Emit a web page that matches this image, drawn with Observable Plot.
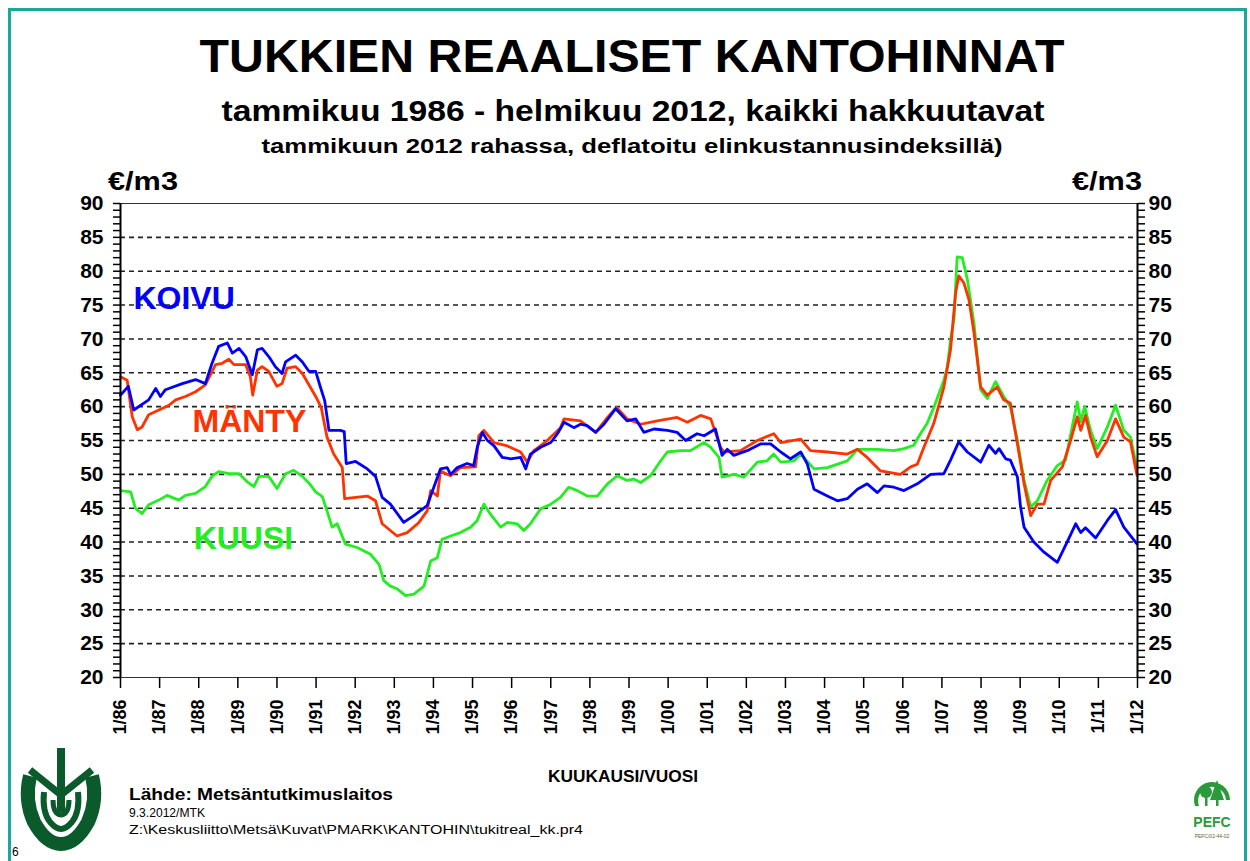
<!DOCTYPE html>
<html><head><meta charset="utf-8">
<script src="https://cdn.jsdelivr.net/npm/d3@7"></script>
<script src="https://cdn.jsdelivr.net/npm/@observablehq/plot@0.6"></script>
<style>
html,body{margin:0;padding:0;background:#fff;}
#wrap{position:relative;width:1250px;height:861px;overflow:hidden;background:#fff;font-family:'Liberation Sans',Arial,sans-serif;}
#chart{position:absolute;left:0;top:0;}
#overlay{position:absolute;left:0;top:0;}
#border{position:absolute;left:8px;top:8px;width:1239px;height:900px;border:3px solid #1aa89b;box-sizing:border-box;}
</style></head>
<body>
<div id="wrap"><div id="border"></div><div id="chart"></div>
<svg id="overlay" width="1250" height="861" xmlns="http://www.w3.org/2000/svg" font-family="'Liberation Sans',Arial,sans-serif" font-weight="bold">
  <text x="632" y="72" font-size="47" text-anchor="middle" textLength="865" lengthAdjust="spacingAndGlyphs">TUKKIEN REAALISET KANTOHINNAT</text>
  <text x="633" y="121" font-size="30" text-anchor="middle" textLength="823" lengthAdjust="spacingAndGlyphs">tammikuu 1986 - helmikuu 2012, kaikki hakkuutavat</text>
  <text x="632" y="153" font-size="21" text-anchor="middle" textLength="741" lengthAdjust="spacingAndGlyphs">tammikuun 2012 rahassa, deflatoitu elinkustannusindeksillä)</text>
  <text x="108" y="190" font-size="25" textLength="70" lengthAdjust="spacingAndGlyphs">€/m3</text>
  <text x="1072" y="190" font-size="25" textLength="70" lengthAdjust="spacingAndGlyphs">€/m3</text>
  <text x="623" y="782" font-size="16" text-anchor="middle" textLength="150" lengthAdjust="spacingAndGlyphs">KUUKAUSI/VUOSI</text>
  <text x="129" y="800" font-size="17" textLength="264" lengthAdjust="spacingAndGlyphs">Lähde: Metsäntutkimuslaitos</text>
  <text x="129" y="817" font-size="12" font-weight="normal" textLength="76" lengthAdjust="spacingAndGlyphs">9.3.2012/MTK</text>
  <text x="129" y="834" font-size="12" font-weight="normal" textLength="454" lengthAdjust="spacingAndGlyphs">Z:\Keskusliitto\Metsä\Kuvat\PMARK\KANTOHIN\tukitreal_kk.pr4</text>
  <text x="12" y="856" font-size="12" font-weight="normal">6</text>
  <g fill="none" stroke="#0b5a2b" stroke-linecap="butt">
    <path d="M 30 776 Q 24 800 34 822 Q 46 844 61 844 Q 76 844 88 822 Q 98 800 92 776" stroke-width="14"/>
    <path d="M 44 792 Q 42 812 50 822 Q 56 829 61 829 Q 66 829 72 822 Q 80 812 78 792" stroke-width="6"/>
    <path d="M 53 800 Q 53 814 61 815 Q 69 814 69 800" stroke-width="5"/>
    <path d="M 61 748 L 61 812" stroke-width="8"/>
    <path d="M 30 770 L 61 795 L 92 770" stroke-width="7"/>
  </g>
  <g fill="#2a9a3a">
    <path d="M 1195 806 A 18 18 0 1 1 1230 800 L 1226 800 A 14 14 0 1 0 1199 806 Z"/>
    <circle cx="1206" cy="792" r="6"/>
    <rect x="1205" y="796" width="2.5" height="10"/>
    <path d="M 1217 780 L 1224 800 L 1210 800 Z"/>
    <rect x="1216" y="798" width="2.5" height="8"/>
    <text x="1212" y="827" font-size="14" text-anchor="middle" font-family="'Liberation Sans',Arial,sans-serif">PEFC</text>
    <text x="1212" y="838" font-size="5" text-anchor="middle" fill="#556b2f" font-weight="normal">PEFC/02-44-02</text>
  </g>
</svg>
</div>
<script>
// x-axis tick years and labels
const tickYears = [1986,1987,1988,1989,1990,1991,1992,1993,1994,1995,1996,1997,1998,1999,2000,2001,2002,2003,2004,2005,2006,2007,2008,2009,2010,2011,2012];
const tickLabels = ["1/86","1/87","1/88","1/89","1/90","1/91","1/92","1/93","1/94","1/95","1/96","1/97","1/98","1/99","1/00","1/01","1/02","1/03","1/04","1/05","1/06","1/07","1/08","1/09","1/10","1/11","1/12"];
const yMajor = [20,25,30,35,40,45,50,55,60,65,70,75,80,85,90];
const yGrid = [25,30,35,40,45,50,55,60,65,70,75,80,85];
const yMinor = [20,21,22,23,24,25,26,27,28,29,30,31,32,33,34,35,36,37,38,39,40,41,42,43,44,45,46,47,48,49,50,51,52,53,54,55,56,57,58,59,60,61,62,63,64,65,66,67,68,69,70,71,72,73,74,75,76,77,78,79,80,81,82,83,84,85,86,87,88,89,90];

// KOIVU (birch) [year, €/m3]
const koivu = [
[1986.0,61.7],[1986.2,63],[1986.34,59.5],[1986.72,61],[1986.9,62.7],[1987.02,61.5],[1987.15,62.5],[1987.58,63.4],[1987.92,64],
[1988.17,63.4],[1988.34,66.4],[1988.51,68.9],[1988.73,69.4],[1988.86,67.9],[1989.03,68.6],[1989.2,67.4],[1989.37,64.7],[1989.5,68.4],
[1989.62,68.6],[1989.79,67.4],[1989.96,65.9],[1990.13,64.9],[1990.22,66.6],[1990.48,67.6],[1990.65,66.6],[1990.82,65.2],[1990.99,65.2],
[1991.11,62.9],[1991.22,60.9],[1991.33,56.5],[1991.62,56.5],[1991.72,56.3],[1991.77,51.6],[1992.01,51.9],[1992.31,50.8],[1992.52,49.7],
[1992.69,46.6],[1992.9,45.6],[1993.24,42.9],[1993.5,43.9],[1993.84,45.4],[1994.01,48.1],[1994.18,50.8],[1994.35,51],[1994.44,50],
[1994.61,51],[1994.86,51.6],[1995.03,51.3],[1995.12,54],[1995.25,56.2],[1995.38,55],[1995.55,54.2],[1995.76,52.5],[1995.97,52.3],
[1996.23,52.5],[1996.36,50.8],[1996.48,53],[1996.74,54],[1997.0,54.7],[1997.17,56],[1997.34,57.7],[1997.59,56.9],[1997.76,57.4],
[1997.93,57.2],[1998.15,56.2],[1998.36,57.4],[1998.66,59.7],[1998.95,57.9],[1999.17,58.2],[1999.38,56.2],[1999.64,56.7],[1999.98,56.5],
[2000.23,56.2],[2000.45,55],[2000.74,56],[2000.92,55.7],[2001.21,56.7],[2001.38,52.8],[2001.51,53.7],[2001.68,52.8],[2002.02,53.5],
[2002.36,54.5],[2002.62,54.5],[2002.88,53.3],[2003.13,52.3],[2003.39,53.3],[2003.56,51.5],[2003.73,47.8],[2004.07,46.8],[2004.33,46.1],
[2004.58,46.4],[2004.84,47.8],[2005.09,48.6],[2005.35,47.3],[2005.52,48.3],[2005.77,48.1],[2006.03,47.6],[2006.37,48.6],[2006.71,50],
[2007.05,50.1],[2007.22,52.1],[2007.43,54.8],[2007.65,53.3],[2007.99,51.8],[2008.2,54.3],[2008.37,53.1],[2008.46,53.8],[2008.63,52.3],
[2008.75,52.1],[2008.93,49.6],[2009.01,45.2],[2009.1,42.2],[2009.35,40],[2009.61,38.5],[2009.95,37],[2010.2,40],[2010.42,42.7],
[2010.55,41.4],[2010.67,42.1],[2010.93,40.6],[2011.23,43.2],[2011.44,44.8],[2011.65,42.2],[2011.99,39.7]
];

// MÄNTY (pine)
const manty = [
[1986.0,64.4],[1986.17,63.9],[1986.3,58.5],[1986.43,56.6],[1986.55,57],[1986.72,58.8],[1986.98,59.5],[1987.24,60.2],[1987.41,61],
[1987.66,61.5],[1987.92,62.2],[1988.17,63.2],[1988.43,66.2],[1988.6,66.4],[1988.77,67],[1988.9,66.2],[1989.2,66.2],[1989.32,64.4],
[1989.38,61.7],[1989.5,65.4],[1989.62,65.9],[1989.79,65.2],[1990.0,63],[1990.13,63.4],[1990.26,65.7],[1990.48,65.9],[1990.65,64.9],
[1990.82,63.2],[1990.99,61.5],[1991.13,59.9],[1991.28,55.5],[1991.45,53],[1991.67,51],[1991.73,46.4],[1992.31,46.8],[1992.52,46.1],
[1992.69,42.7],[1993.07,40.9],[1993.33,41.4],[1993.63,42.9],[1993.84,44.6],[1993.93,47.6],[1994.1,46.8],[1994.18,50.5],[1994.44,49.8],
[1994.69,51],[1995.08,51.1],[1995.16,55.7],[1995.29,56.5],[1995.55,54.7],[1995.89,54.2],[1996.23,53.3],[1996.4,51.8],[1996.57,53.5],
[1996.91,55],[1997.25,56.9],[1997.34,58.2],[1997.76,57.9],[1998.15,56.2],[1998.45,58.4],[1998.68,59.9],[1998.95,58.2],[1999.3,57.4],
[1999.72,57.9],[2000.23,58.4],[2000.49,57.7],[2000.83,58.7],[2001.09,58.2],[2001.34,54],[2001.43,53.3],[2001.85,53.5],[2002.28,55],
[2002.7,56],[2002.88,54.7],[2003.39,55.2],[2003.64,53.5],[2004.07,53.3],[2004.58,53],[2004.84,53.7],[2005.09,52.5],[2005.43,50.5],
[2005.94,50],[2006.2,51.1],[2006.37,51.5],[2006.54,54],[2006.79,57.5],[2007.05,62.9],[2007.22,68.4],[2007.35,76.8],[2007.43,79.3],
[2007.56,78.3],[2007.69,75.8],[2007.82,70.9],[2007.99,62.9],[2008.16,61.7],[2008.41,62.9],[2008.58,61],[2008.75,60.5],[2008.93,54.5],
[2009.1,48.6],[2009.27,43.9],[2009.44,45.6],[2009.61,45.6],[2009.78,49.1],[2010.08,51.1],[2010.29,55],[2010.46,58.5],[2010.55,56.5],
[2010.67,58.7],[2010.8,55.5],[2010.97,52.6],[2011.23,55],[2011.44,58.2],[2011.65,55.5],[2011.82,54.8],[2011.99,49.8]
];

// KUUSI (spruce)
const kuusi = [
[1986.0,47.6],[1986.26,47.4],[1986.38,45],[1986.55,44.2],[1986.72,45.5],[1986.98,46.2],[1987.19,46.9],[1987.49,46.2],[1987.66,46.9],
[1987.92,47.2],[1988.17,48.2],[1988.34,49.7],[1988.51,50.4],[1988.77,50.1],[1989.03,50.1],[1989.24,48.9],[1989.41,48.2],[1989.54,49.7],
[1989.79,49.7],[1990.0,47.9],[1990.22,50.1],[1990.43,50.6],[1990.65,49.7],[1990.82,48.7],[1990.99,47.4],[1991.16,46.7],[1991.28,44.6],
[1991.41,42.2],[1991.54,42.7],[1991.75,39.7],[1992.05,39.2],[1992.39,38.2],[1992.61,36.7],[1992.73,34.3],[1992.9,33.5],[1993.07,33.1],
[1993.29,32.1],[1993.5,32.3],[1993.76,33.5],[1993.93,37.2],[1994.1,37.7],[1994.22,40.4],[1994.44,40.9],[1994.69,41.4],[1994.95,42.2],
[1995.12,43.2],[1995.29,45.6],[1995.46,44.1],[1995.72,42.2],[1995.89,42.9],[1996.14,42.7],[1996.31,41.7],[1996.48,42.7],[1996.74,44.9],
[1997.0,45.6],[1997.25,46.6],[1997.46,48.1],[1997.68,47.6],[1997.93,46.8],[1998.19,46.8],[1998.45,48.6],[1998.7,49.8],[1998.95,49.1],
[1999.12,49.3],[1999.3,48.8],[1999.55,49.8],[1999.81,52],[1999.98,53.3],[2000.32,53.5],[2000.57,53.5],[2000.92,54.7],[2001.09,54],
[2001.3,52.5],[2001.38,49.6],[2001.68,50],[2001.94,49.6],[2002.28,51.8],[2002.53,52],[2002.7,53],[2002.88,51.8],[2003.22,52],
[2003.39,53],[2003.73,50.8],[2004.07,51],[2004.58,52],[2004.84,53.7],[2005.35,53.7],[2005.77,53.5],[2006.03,53.8],[2006.28,54.3],
[2006.45,56],[2006.62,57.5],[2006.8,60],[2007.05,63.9],[2007.14,65.9],[2007.22,69.9],[2007.31,73],[2007.36,79],[2007.39,82.1],
[2007.52,82],[2007.65,78.8],[2007.82,72.3],[2007.99,62.5],[2008.16,61.2],[2008.37,63.7],[2008.58,61.5],[2008.75,60],[2008.93,55],
[2009.1,49.1],[2009.27,45.2],[2009.44,46.1],[2009.69,49.1],[2009.95,51.3],[2010.16,52.1],[2010.33,57],[2010.46,60.7],[2010.55,57.8],
[2010.65,60],[2010.8,56.5],[2010.97,53.8],[2011.23,57],[2011.44,60.2],[2011.65,56.5],[2011.82,55.5],[2011.99,50.8]
];

const seriesNames = ["KOIVU","MÄNTY","KUUSI"];
const cBlue = "#0000ff", cRed = "#ff3300", cGreen = "#22ee22";
const fmtX = d => tickLabels[tickYears.indexOf(d)];

const chart = Plot.plot({
  width: 1250, height: 861,
  marginLeft: 120, marginRight: 113, marginTop: 203, marginBottom: 184,
  x: {domain: [1986, 2012]},
  y: {domain: [20, 90]},
  style: {fontFamily: "'Liberation Sans', Arial, sans-serif", fontWeight: "bold", fontSize: "21px", background: "transparent", color: "#000"},
  marks: [
    Plot.ruleY(yGrid, {stroke: "#222", strokeWidth: 1.6, strokeDasharray: "5,4"}),
    Plot.frame({stroke: "#333", strokeWidth: 1}),
    Plot.line(kuusi, {x: d => d[0], y: d => d[1], stroke: cGreen, strokeWidth: 2.8}),
    Plot.line(manty, {x: d => d[0], y: d => d[1], stroke: cRed, strokeWidth: 2.8}),
    Plot.line(koivu, {x: d => d[0], y: d => d[1], stroke: cBlue, strokeWidth: 2.8}),
    Plot.ruleX([1986, 2012], {stroke: "#000", strokeWidth: 2}),
    Plot.axisY(yMinor, {anchor: "left", tickSize: 7, strokeWidth: 1.5, tickFormat: () => "", label: null}),
    Plot.axisY(yMinor, {anchor: "right", tickSize: 7, strokeWidth: 1.5, tickFormat: () => "", label: null}),
    Plot.axisY(yMajor, {anchor: "left", tickSize: 0, tickPadding: 17, label: null}),
    Plot.axisY(yMajor, {anchor: "right", tickSize: 0, tickPadding: 11, label: null}),
    Plot.axisX(tickYears, {anchor: "bottom", tickSize: 11, tickPadding: 11, tickRotate: -90, fontSize: 18, strokeWidth: 1.5, tickFormat: fmtX, label: null}),
    Plot.text([seriesNames[0]], {x: 1986.33, y: 76, text: d => d, textAnchor: "start", fill: cBlue, fontSize: 32}),
    Plot.text([seriesNames[1]], {x: 1987.84, y: 57.8, text: d => d, textAnchor: "start", fill: cRed, fontSize: 32}),
    Plot.text([seriesNames[2]], {x: 1987.87, y: 40.5, text: d => d, textAnchor: "start", fill: cGreen, fontSize: 32})
  ]
});
document.getElementById("chart").appendChild(chart);
</script>
</body></html>
